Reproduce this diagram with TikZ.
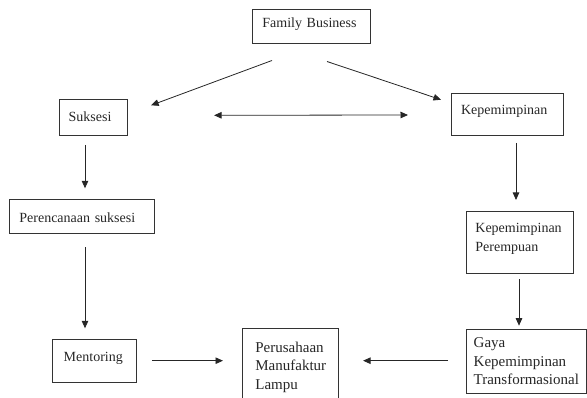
\documentclass[tikz,border=0pt]{standalone}
\usepackage{fontspec}
\setmainfont{Liberation Serif}
\usetikzlibrary{arrows.meta,calc}
\hyphenpenalty=10000
\exhyphenpenalty=10000
\begin{document}
\begin{tikzpicture}[x=1pt,y=-1pt,
  box/.style={draw=black!80, line width=0.8pt, rectangle, anchor=north west,
    inner ysep=0pt, align=left, text=black!85,
    font=\fontsize{14}{18.4}\selectfont},
  bigbox/.style={box, font=\fontsize{15}{18.6}\selectfont},
  arr/.style={draw=black!85, line width=0.8pt, -{Triangle[length=7.5pt,width=6.5pt]}},
  darr/.style={draw=black!85, line width=0.8pt, {Triangle[length=7.5pt,width=6.5pt]}-{Triangle[length=7.5pt,width=6.5pt]}}]
\useasboundingbox (0,0) rectangle (587,398);
\clip (0,0) rectangle (587,398);

\node[box, text width=98pt, inner xsep=10pt, text height=17.4pt, text depth=16pt] (fb) at (252,9.3) {Family Business};
\node[box, text width=50pt, inner xsep=9pt, text height=21.4pt, text depth=14.3pt] (suk) at (59.3,99.3) {Suksesi};
\node[box, text width=92.6pt, inner xsep=9.7pt, text height=21.3pt, text depth=21pt] (kep) at (451,92.7) {Kepemimpinan};
\node[box, text width=125pt, inner xsep=10pt, text height=22.4pt, text depth=11pt] (per) at (9,199.3) {Perencanaan suksesi};
\node[box, text width=89pt, inner xsep=9pt, text height=21.6pt, text depth=40.4pt] (kepp) at (466,210.7) {Kepemimpinan\\Perempuan};
\node[box, text width=61.4pt, inner xsep=11pt, text height=22pt, text depth=21.3pt] (ment) at (52.3,339) {Mentoring};
\node[bigbox, text width=70.6pt, inner xsep=12.7pt, text height=23.4pt, text depth=52pt] (perus) at (242.3,328.3) {Perusahaan\\Manufaktur\\Lampu};
\node[bigbox, text width=105.4pt, inner xsep=7.3pt, text height=18pt, text depth=46.3pt] (gaya) at (466,329) {Gaya\\Kepemimpinan\\Transformasional};

\draw[arr] ($(fb.south west)+(20,17)$) -- ($(suk.north east)+(23,6)$);
\draw[arr] ($(fb.south west)+(75,18)$) -- ($(kep.north west)+(-10,7)$);
\draw[darr] ($(suk.north east)+(86,16)$) -- ($(kep.north west)+(-43,22.3)$);
\draw[arr] ($(suk.south west)+(25.7,9)$) -- ($(per.north west)+(76,-11)$);
\draw[arr] ($(per.south west)+(76,14)$) -- ($(ment.north west)+(32.7,-10.7)$);
\draw[arr] ($(kep.south west)+(65,7)$) -- ($(kepp.north west)+(50,-10.7)$);
\draw[arr] ($(kepp.south west)+(53,5.6)$) -- ($(gaya.north west)+(53,-3.3)$);
\draw[arr] ($(ment.north east)+(15.3,21.7)$) -- ($(perus.north west)+(-19.3,32.4)$);
\draw[arr] ($(gaya.north west)+(-18,31.7)$) -- ($(perus.north east)+(24,32.4)$);
\end{tikzpicture}
\end{document}
